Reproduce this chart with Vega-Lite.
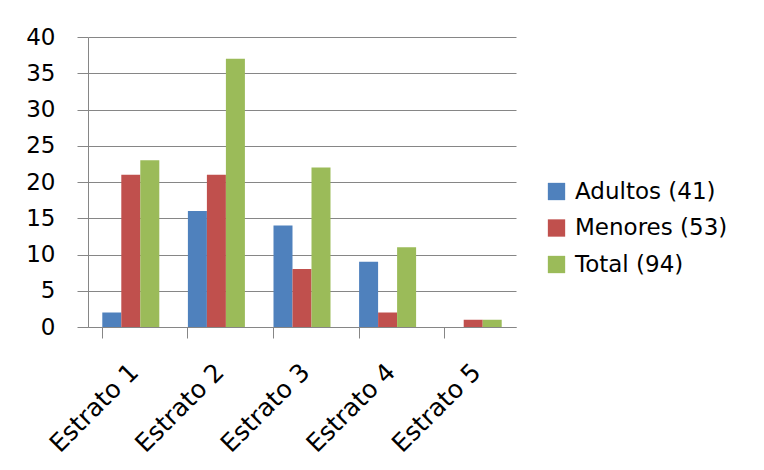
{
  "$schema": "https://vega.github.io/schema/vega-lite/v6.json",
  "autosize": "none",
  "width": 428,
  "height": 290,
  "padding": {"left": 88, "top": 37, "right": 248, "bottom": 143},
  "background": "white",
  "data": {
    "values": [
      {"estrato": "Estrato 1", "grupo": "Adultos (41)", "n": 2},
      {"estrato": "Estrato 1", "grupo": "Menores (53)", "n": 21},
      {"estrato": "Estrato 1", "grupo": "Total (94)", "n": 23},
      {"estrato": "Estrato 2", "grupo": "Adultos (41)", "n": 16},
      {"estrato": "Estrato 2", "grupo": "Menores (53)", "n": 21},
      {"estrato": "Estrato 2", "grupo": "Total (94)", "n": 37},
      {"estrato": "Estrato 3", "grupo": "Adultos (41)", "n": 14},
      {"estrato": "Estrato 3", "grupo": "Menores (53)", "n": 8},
      {"estrato": "Estrato 3", "grupo": "Total (94)", "n": 22},
      {"estrato": "Estrato 4", "grupo": "Adultos (41)", "n": 9},
      {"estrato": "Estrato 4", "grupo": "Menores (53)", "n": 2},
      {"estrato": "Estrato 4", "grupo": "Total (94)", "n": 11},
      {"estrato": "Estrato 5", "grupo": "Adultos (41)", "n": 0},
      {"estrato": "Estrato 5", "grupo": "Menores (53)", "n": 1},
      {"estrato": "Estrato 5", "grupo": "Total (94)", "n": 1}
    ]
  },
  "mark": {"type": "bar"},
  "encoding": {
    "x": {
      "field": "estrato",
      "type": "nominal",
      "scale": {"paddingInner": 0.334, "paddingOuter": 0.167},
      "axis": {
        "title": null,
        "labelAngle": -45,
        "labelFont": "DejaVu Sans",
        "labelFontSize": 25,
        "labelColor": "#000000",
        "labelPadding": 21,
        "labelOffset": -5,
        "domainColor": "#868686",
        "tickColor": "#868686",
        "tickSize": 11,
        "bandPosition": 0,
        "grid": false
      }
    },
    "xOffset": {
      "field": "grupo",
      "type": "nominal",
      "scale": {"paddingInner": 0, "paddingOuter": 0}
    },
    "y": {
      "field": "n",
      "type": "quantitative",
      "scale": {"domain": [0, 40], "nice": false},
      "axis": {
        "title": null,
        "values": [0, 5, 10, 15, 20, 25, 30, 35, 40],
        "labelFont": "DejaVu Sans",
        "labelFontSize": 23,
        "labelColor": "#000000",
        "labelPadding": 22,
        "tickSize": 11,
        "tickColor": "#868686",
        "domainColor": "#868686",
        "gridColor": "#868686",
        "gridOpacity": 1,
        "grid": true
      }
    },
    "color": {
      "field": "grupo",
      "type": "nominal",
      "scale": {
        "domain": ["Adultos (41)", "Menores (53)", "Total (94)"],
        "range": ["#4F81BD", "#C0504D", "#9BBB59"]
      },
      "legend": {
        "title": null,
        "orient": "none",
        "legendX": 457,
        "legendY": 143,
        "symbolType": "square",
        "symbolSize": 300,
        "symbolStrokeWidth": 0,
        "symbolOpacity": 1,
        "labelFont": "DejaVu Sans",
        "labelFontSize": 23,
        "labelColor": "#000000",
        "labelOffset": 7,
        "rowPadding": 12.5
      }
    }
  },
  "config": {
    "view": {"stroke": null}
  }
}
